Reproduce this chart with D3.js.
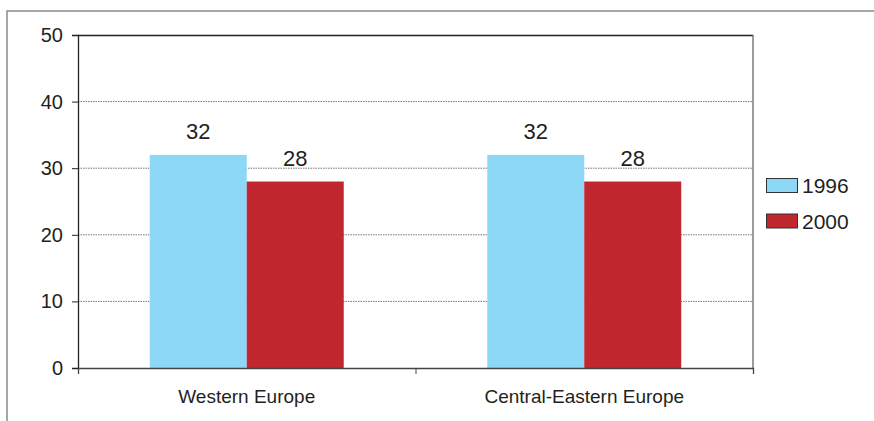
<!DOCTYPE html>
<html>
<head>
<meta charset="utf-8">
<script src="https://cdn.jsdelivr.net/npm/d3@7"></script>
<style>
  body { margin: 0; background: #fff; }
  svg text { font-family: "Liberation Sans", Arial, sans-serif; fill: #231f20; }
</style>
</head>
<body>
<svg id="chart" width="874" height="421"></svg>
<script>
const regions = ["Western Europe", "Central-Eastern Europe"];
const years = ["1996", "2000"];
const values1996 = [32, 32];
const values2000 = [28, 28];
const yTicks = [0, 10, 20, 30, 40, 50];
const colors = ["#8ed8f7", "#c1272f"];

const svg = d3.select("#chart");
const margin = { top: 35, right: 121, bottom: 53, left: 78 };
const width = 874 - margin.left - margin.right;
const height = 421 - margin.top - margin.bottom;

// outer frame
svg.append("path")
    .attr("d", "M7,421 V11 H874")
    .attr("fill", "none")
    .attr("stroke", "#8a8a8a")
    .attr("stroke-width", 1.5);

const g = svg.append("g").attr("transform", `translate(${margin.left},${margin.top})`);

const y = d3.scaleLinear().domain([0, 50]).range([height, 0]);
const x0 = d3.scaleBand().domain(regions).range([0, width]).padding(0);
const x1 = d3.scaleBand().domain(years).range([0, x0.bandwidth()]).paddingInner(0).paddingOuter(0.74);

// gridlines
g.selectAll(".grid")
    .data(yTicks.filter(d => d > 0 && d < 50))
    .enter().append("line")
    .attr("x1", 0).attr("x2", width)
    .attr("y1", d => y(d)).attr("y2", d => y(d))
    .attr("stroke", "#777")
    .attr("stroke-dasharray", "1.5,1")
    .attr("stroke-width", 1);

// top and right border of plot
g.append("line").attr("x1", 0).attr("x2", width).attr("y1", 0.5).attr("y2", 0.5)
    .attr("stroke", "#222").attr("stroke-width", 1.3);
g.append("line").attr("x1", width).attr("x2", width).attr("y1", 0).attr("y2", height)
    .attr("stroke", "#666").attr("stroke-width", 1.3);

const rows = regions.map((r, i) => ({ region: r, vals: [values1996[i], values2000[i]] }));

const groups = g.selectAll(".grp")
    .data(rows)
    .enter().append("g")
    .attr("transform", d => `translate(${x0(d.region)},0)`);

groups.selectAll("rect")
    .data(d => d.vals.map((v, j) => ({ year: years[j], v, j })))
    .enter().append("rect")
    .attr("x", d => x1(d.year))
    .attr("width", x1.bandwidth())
    .attr("y", d => y(d.v))
    .attr("height", d => height - y(d.v))
    .attr("fill", d => colors[d.j]);

groups.selectAll(".val")
    .data(d => d.vals.map((v, j) => ({ year: years[j], v })))
    .enter().append("text")
    .attr("x", d => x1(d.year) + x1.bandwidth() / 2)
    .attr("y", d => y(d.v) - 16)
    .attr("text-anchor", "middle")
    .attr("font-size", 22)
    .text(d => d.v);

// y axis
const yAxis = g.append("g")
    .call(d3.axisLeft(y).tickValues(yTicks).tickSize(6).tickPadding(9));
yAxis.select(".domain").attr("stroke", "#222").attr("stroke-width", 1.3);
yAxis.selectAll(".tick line").attr("stroke", "#222");
yAxis.selectAll("text").attr("font-size", 20).attr("fill", "#231f20");

// x axis
const xAxis = g.append("g")
    .attr("transform", `translate(0,${height})`)
    .call(d3.axisBottom(d3.scaleLinear().domain([0, 2]).range([0, width]))
        .tickValues([0, 1, 2]).tickSize(6).tickFormat(""));
xAxis.select(".domain").attr("stroke", "#444").attr("stroke-width", 1.3);
xAxis.selectAll(".tick line").attr("stroke", "#444");

g.selectAll(".cat")
    .data(regions)
    .enter().append("text")
    .attr("x", d => x0(d) + x0.bandwidth() / 2)
    .attr("y", height + 35)
    .attr("text-anchor", "middle")
    .attr("font-family", "'Liberation Sans Narrow', 'Arial Narrow', sans-serif")
    .attr("font-size", 19)
    .text(d => d);

// legend
const legend = svg.append("g").attr("transform", "translate(766,178)");
years.forEach((yr, i) => {
    const row = legend.append("g").attr("transform", `translate(0,${i * 35.5})`);
    row.append("rect")
        .attr("x", 0.5).attr("y", 0.5)
        .attr("width", 31).attr("height", 14)
        .attr("fill", colors[i])
        .attr("stroke", "#333").attr("stroke-width", 1);
    row.append("text")
        .attr("x", 36).attr("y", 15)
        .attr("font-size", 21)
        .text(yr);
});
</script>
</body>
</html>
